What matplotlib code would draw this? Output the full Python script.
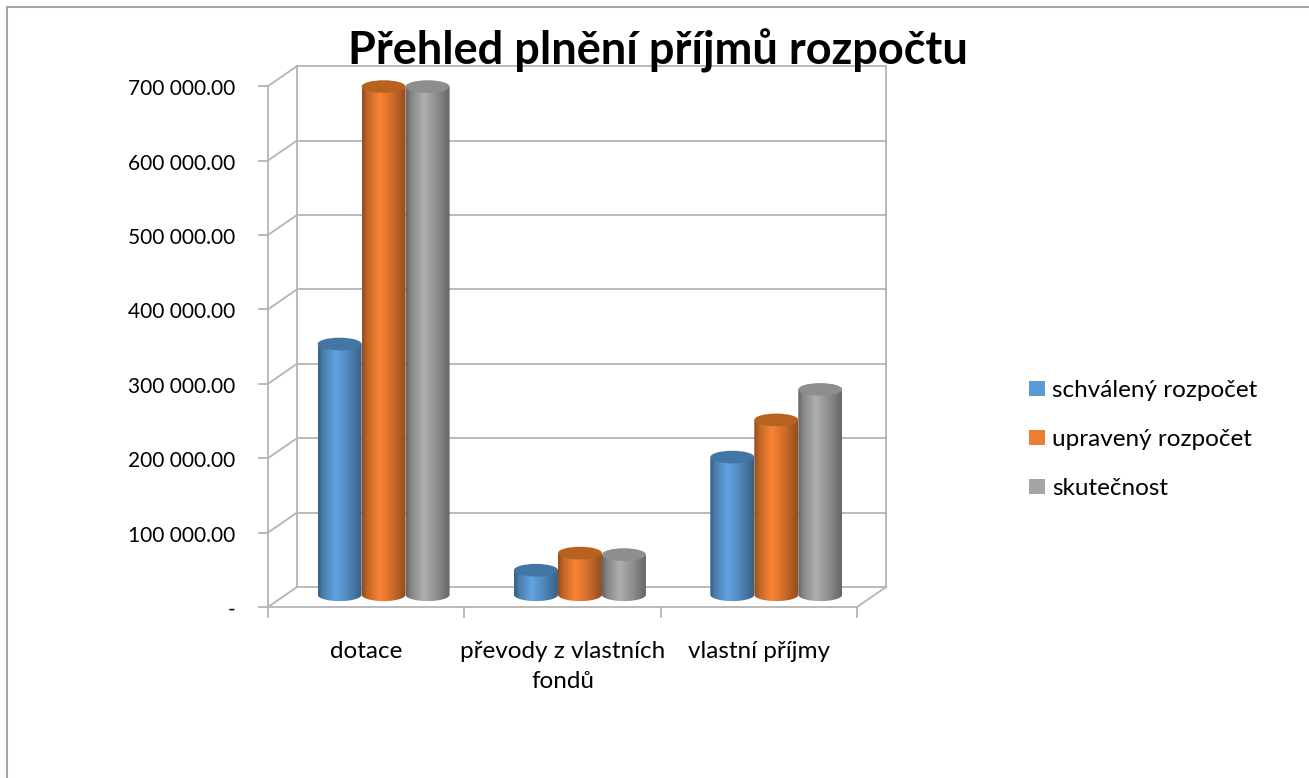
import numpy as np
import matplotlib.pyplot as plt
from matplotlib.patches import Ellipse, Rectangle, Polygon
from matplotlib.colors import to_rgb

plt.rcParams['font.family'] = ['Lato', 'DejaVu Sans']

categories = ["dotace", "převody z vlastních\nfondů", "vlastní příjmy"]
series = ["schválený rozpočet", "upravený rozpočet", "skutečnost"]
schvaleny = [337000, 33000, 185000]
upraveny = [683000, 56000, 235000]
skutecnost = [683000, 54000, 276000]
values = [schvaleny, upraveny, skutecnost]
yticks = [0, 100000, 200000, 300000, 400000, 500000, 600000, 700000]
ytick_labels = ["-"] + [f"{v:,.2f}".replace(",", " ") for v in yticks[1:]]

colors = ["#5b9bd5", "#ed7d31", "#a5a5a5"]
top_colors = ["#4375a6", "#b8621f", "#8e8e8e"]
grid_c = "#b4b4b4"

# fake 3D depth (data units)
DX, DY = 0.148, 26900
CX, CY = DX / 2 + 0.015, DY / 2 + 3000
BW = 0.224
EH = 17000  # ellipse height

fig = plt.figure(figsize=(13.09, 7.78), dpi=100)
ax = fig.add_axes([0.1972, 0.1911, 0.4875, 0.7364])
ax.set_xlim(-0.05, 3.2)
ax.set_ylim(-30000, 740000)
ax.axis("off")

# walls / grid
for v in yticks:
    ax.plot([DX, 3 + DX], [v + DY, v + DY], color=grid_c, lw=1.3, zorder=1)
    ax.plot([0, DX], [v, v + DY], color=grid_c, lw=1.3, zorder=1)
    ax.plot([-0.045, 0], [v, v], color=grid_c, lw=1.3, zorder=1)
ax.plot([0, 0], [0, yticks[-1]], color=grid_c, lw=1.3, zorder=1)
ax.plot([DX, DX], [DY, yticks[-1] + DY], color=grid_c, lw=1.3, zorder=1)
ax.plot([3 + DX, 3 + DX], [DY, yticks[-1] + DY], color=grid_c, lw=1.3, zorder=1)
ax.plot([0, 3], [0, 0], color=grid_c, lw=1.3, zorder=1)
ax.plot([3, 3 + DX], [0, DY], color=grid_c, lw=1.3, zorder=1)
for i in range(4):
    ax.plot([i, i], [0, -13000], color=grid_c, lw=1.3, zorder=1)

for v, lab in zip(yticks, ytick_labels):
    ax.text(-0.165, v - 4000, lab, ha="right", va="center", fontsize=15)

for i, c in enumerate(categories):
    ax.text(i + 0.5, -46000, c, ha="center", va="top", fontsize=17.5,
            linespacing=1.5)

prof_t = [0, 0.12, 0.4, 0.7, 1]
prof_f = [0.62, 0.82, 1.06, 0.86, 0.62]
t = np.linspace(0, 1, 60)
shade = np.interp(t, prof_t, prof_f)


def cylinder(xc, base, h, color, topc, z):
    x0, x1 = xc - BW / 2, xc + BW / 2
    rgb = np.array(to_rgb(color))
    img = np.clip(shade[None, :, None] * rgb[None, None, :], 0, 1)
    ang = np.linspace(np.pi, 2 * np.pi, 40)
    arc = np.column_stack([xc + BW / 2 * np.cos(ang), base + EH / 2 * np.sin(ang)])
    pts = np.vstack([[x0, base + h], arc, [x1, base + h]])
    clip = Polygon(pts, closed=True, facecolor="none", edgecolor="none")
    ax.add_patch(clip)
    im = ax.imshow(img, extent=[x0, x1, base - EH, base + h], aspect="auto",
                   zorder=z, interpolation="bilinear")
    im.set_clip_path(clip)
    ax.add_patch(Ellipse((xc, base + h), BW, EH, facecolor=topc,
                         edgecolor="none", zorder=z + 0.1))


for k, (vals, col, tc) in enumerate(zip(values, colors, top_colors)):
    for i, v in enumerate(vals):
        xc = i + 0.5 + CX + (k - 1) * BW
        cylinder(xc, CY, v, col, tc, 3 + k)

ax.set_xlim(-0.05, 3.2)
ax.set_ylim(-30000, 740000)

fig.text(0.503, 0.935, "Přehled plnění příjmů rozpočtu", ha="center",
         va="center", fontsize=32.5, fontweight="bold")

handles = [Rectangle((0, 0), 1, 1, facecolor=c) for c in colors]
fig.legend(handles, series, loc="center left", bbox_to_anchor=(0.779, 0.435),
           frameon=False, fontsize=17.5, handlelength=0.62, handleheight=0.62,
           handletextpad=0.3, labelspacing=1.15, borderaxespad=0)

fig.patches.append(Rectangle((6.5 / 1309, -0.05), 1.2, 1.05 - 6.5 / 778,
                             transform=fig.transFigure, fill=False,
                             edgecolor="#a6a6a6", lw=1.5))

fig.savefig("out.png", dpi=100, facecolor="white")
